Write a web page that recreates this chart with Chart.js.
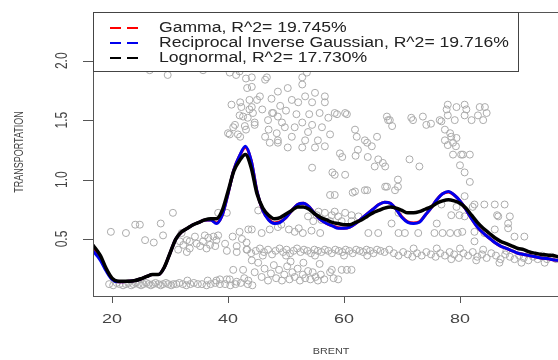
<!DOCTYPE html>
<html>
<head>
<meta charset="utf-8">
<script src="https://cdn.jsdelivr.net/npm/chart.js@4.4.0/dist/chart.umd.min.js"></script>
<style>
    html, body { margin: 0; padding: 0; overflow: hidden; background: #fff; }
    #chart { display: block; }
</style>
</head>
<body>
<canvas id="chart" width="580" height="360"></canvas>
<script>
// smoothed fits, sampled along BRENT
const curveX = [16.7, 18, 19, 20, 21, 22, 23, 24, 25, 26, 27, 28, 29, 30, 31, 32, 33, 34, 35, 36, 37, 38, 39, 40,
    41, 42, 43, 44, 45, 46, 47, 48, 49, 50, 51, 52, 53, 54, 55, 56, 57, 58, 59, 60, 61, 62, 63, 64, 65, 66, 67, 68,
    69, 70, 71, 72, 73, 74, 75, 76, 77, 78, 79, 80, 81, 82, 83, 84, 85, 86, 87, 88, 89, 90, 91, 92, 93, 94, 95, 96, 97];
const gammaY = [0.42, 0.34, 0.24, 0.165, 0.14, 0.14, 0.145, 0.15, 0.165, 0.185, 0.2, 0.2, 0.26, 0.38, 0.5, 0.56, 0.59,
    0.62, 0.64, 0.66, 0.66, 0.635, 0.7, 0.88, 1.08, 1.2, 1.27, 1.16, 0.9, 0.74, 0.665, 0.635, 0.645, 0.68, 0.74, 0.79,
    0.8, 0.77, 0.71, 0.66, 0.63, 0.61, 0.595, 0.59, 0.6, 0.63, 0.67, 0.71, 0.75, 0.79, 0.81, 0.8, 0.75, 0.685, 0.645,
    0.635, 0.645, 0.7, 0.76, 0.83, 0.88, 0.895, 0.87, 0.82, 0.75, 0.67, 0.6, 0.55, 0.51, 0.47, 0.44, 0.42, 0.4, 0.38,
    0.37, 0.36, 0.35, 0.34, 0.335, 0.325, 0.32];
const invGaussY = [0.4, 0.32, 0.23, 0.16, 0.14, 0.14, 0.145, 0.15, 0.165, 0.185, 0.2, 0.2, 0.26, 0.38, 0.5, 0.56, 0.59,
    0.62, 0.64, 0.66, 0.66, 0.63, 0.7, 0.88, 1.08, 1.2, 1.28, 1.16, 0.9, 0.74, 0.66, 0.63, 0.64, 0.68, 0.74, 0.79, 0.8,
    0.77, 0.71, 0.66, 0.63, 0.61, 0.59, 0.59, 0.6, 0.63, 0.67, 0.71, 0.75, 0.79, 0.81, 0.8, 0.75, 0.68, 0.64, 0.63,
    0.64, 0.7, 0.76, 0.83, 0.88, 0.9, 0.87, 0.82, 0.75, 0.67, 0.6, 0.55, 0.51, 0.47, 0.44, 0.42, 0.4, 0.38, 0.37, 0.36,
    0.35, 0.34, 0.335, 0.325, 0.32];
const lognormY = [0.45, 0.36, 0.25, 0.17, 0.145, 0.145, 0.145, 0.15, 0.165, 0.185, 0.2, 0.2, 0.26, 0.38, 0.5, 0.56,
    0.59, 0.62, 0.64, 0.66, 0.67, 0.67, 0.74, 0.9, 1.07, 1.16, 1.21, 1.1, 0.88, 0.76, 0.7, 0.67, 0.68, 0.71, 0.74,
    0.77, 0.77, 0.75, 0.71, 0.68, 0.66, 0.64, 0.63, 0.62, 0.62, 0.64, 0.66, 0.69, 0.72, 0.74, 0.76, 0.77, 0.76, 0.74,
    0.72, 0.72, 0.73, 0.75, 0.77, 0.8, 0.82, 0.83, 0.82, 0.8, 0.76, 0.7, 0.64, 0.59, 0.55, 0.51, 0.48, 0.46, 0.44,
    0.42, 0.41, 0.39, 0.38, 0.37, 0.365, 0.36, 0.35];

const legendLabels = ['Gamma, R^2= 19.745%', 'Reciprocal Inverse Gaussian, R^2= 19.716%', 'Lognormal, R^2= 17.730%'];
const legendColors = ['#ff0000', '#0000ee', '#000000'];
const xTicks = [20, 40, 60, 80];
const yTicks = [0.5, 1.0, 1.5, 2.0];
const xTitle = 'BRENT';
const yTitle = 'TRANSPORTATION';

// observations [BRENT, TRANSPORTATION], grouped by region of the cloud
const lowBand = [[19.5, 0.12], [20.2, 0.11], [20.8, 0.13], [21.3, 0.12], [21.9, 0.11], [22.4, 0.12], [22.8, 0.13],
    [23.3, 0.11], [23.7, 0.12], [24.1, 0.13], [24.6, 0.12], [25.0, 0.11], [25.4, 0.12], [25.9, 0.13], [26.3, 0.12],
    [26.7, 0.11], [27.1, 0.12], [27.5, 0.13], [28.0, 0.12], [28.4, 0.11], [28.8, 0.12], [29.3, 0.13], [29.7, 0.12],
    [30.2, 0.11], [30.6, 0.12], [31.1, 0.12], [31.6, 0.13], [32.2, 0.12], [32.8, 0.11], [33.5, 0.12], [34.1, 0.13],
    [34.8, 0.12], [35.5, 0.12], [36.3, 0.11], [37.0, 0.12], [37.8, 0.13], [38.6, 0.12], [39.5, 0.12], [40.4, 0.11],
    [41.3, 0.12], [42.2, 0.13], [43.4, 0.12], [44.2, 0.11], [33.0, 0.15], [36.5, 0.15], [38.6, 0.16], [40.3, 0.16]];
const leftCloud = [[19.8, 0.56], [22.4, 0.55], [24.0, 0.62], [24.8, 0.62], [25.7, 0.49], [27.2, 0.47], [28.4, 0.63],
    [28.8, 0.53], [30.5, 0.72], [31.4, 0.41], [32.3, 0.45], [33.4, 0.48], [34.6, 0.46], [35.7, 0.48], [36.6, 0.51],
    [37.5, 0.52], [38.0, 0.49], [36.9, 0.45], [35.2, 0.44], [33.4, 0.42], [32.9, 0.39], [36.3, 0.42], [37.8, 0.44],
    [38.3, 0.53], [36.0, 0.53], [34.3, 0.52], [32.9, 0.49], [31.7, 0.48], [32.0, 0.55], [39.8, 0.40], [41.5, 0.39],
    [43.3, 0.41], [39.5, 0.46], [40.8, 0.52], [41.5, 0.44], [42.4, 0.50], [43.2, 0.47], [42.0, 0.56], [43.5, 0.58],
    [38.3, 0.72], [39.8, 0.72], [40.9, 0.24], [42.6, 0.24], [38.0, 0.15], [39.8, 0.16], [41.5, 0.14], [42.8, 0.17]];
const peakCloud = [[26.5, 1.92], [29.6, 1.88], [34.6, 1.94], [35.7, 1.92], [40.3, 1.90], [41.4, 1.88], [40.9, 1.94],
    [42.0, 1.91], [43.1, 1.85], [43.3, 1.77], [44.1, 1.86], [46.7, 1.86], [40.6, 1.63], [42.3, 1.61], [43.7, 1.59],
    [42.0, 1.54], [43.4, 1.52], [41.2, 1.46], [42.9, 1.45], [40.0, 1.39], [41.7, 1.38], [43.7, 1.67], [42.1, 1.65],
    [45.0, 1.67], [44.3, 1.56], [42.6, 1.53], [40.9, 1.44], [43.1, 1.42], [44.6, 1.46], [40.3, 1.38], [42.1, 1.36],
    [47.8, 1.56], [48.4, 1.39], [47.2, 1.31], [48.6, 1.31]];
const midCloud = [[44.1, 1.78], [46.4, 1.84], [48.6, 1.74], [50.3, 1.77], [52.8, 1.86], [53.6, 1.90], [52.8, 1.80],
    [51.0, 1.67], [53.3, 1.70], [55.0, 1.73], [56.7, 1.70], [54.5, 1.65], [56.7, 1.65], [52.1, 1.65], [44.1, 1.61],
    [45.9, 1.59], [47.6, 1.56], [48.6, 1.53], [44.6, 1.48], [46.9, 1.50], [49.3, 1.48], [49.8, 1.44], [52.8, 1.48],
    [54.5, 1.46], [56.2, 1.44], [46.4, 1.36], [48.6, 1.33], [51.0, 1.36], [53.3, 1.33], [55.5, 1.33], [50.3, 1.27],
    [52.8, 1.27], [55.0, 1.27], [56.7, 1.28], [45.5, 1.70], [47.5, 1.68], [50.0, 1.58], [51.8, 1.55], [54.0, 1.55],
    [55.8, 1.56], [57.3, 1.52], [49.0, 1.62], [51.5, 1.44], [53.8, 1.40], [57.6, 1.38], [47.0, 1.42]];
const rightMid = [[58.4, 1.56], [60.2, 1.56], [58.8, 1.55], [60.5, 1.55], [67.4, 1.53], [67.6, 1.50], [68.3, 1.45],
    [67.9, 1.50], [62.2, 1.36], [65.7, 1.36], [64.0, 1.31], [61.9, 1.42], [63.6, 1.33], [62.4, 1.25], [64.8, 1.28],
    [64.1, 1.19], [65.9, 1.17], [67.1, 1.11], [65.3, 1.11], [59.3, 1.22], [59.7, 1.19], [62.0, 1.20], [66.7, 1.14],
    [54.5, 1.10], [58.0, 1.06], [60.2, 1.04], [58.4, 1.04], [58.4, 0.87], [61.9, 0.90], [63.6, 0.91], [67.1, 0.94],
    [68.8, 0.91], [69.3, 1.00], [57.6, 0.87], [61.5, 0.89], [64.0, 0.91], [67.4, 0.94]];
const rightCloud = [[77.9, 1.63], [80.8, 1.63], [84.3, 1.61], [71.6, 1.52], [73.6, 1.53], [75.0, 1.47], [76.8, 1.49],
    [77.9, 1.54], [79.1, 1.50], [80.8, 1.54], [82.0, 1.50], [83.1, 1.54], [84.0, 1.50], [77.4, 1.42], [78.5, 1.36],
    [79.4, 1.35], [77.4, 1.33], [77.9, 1.29], [79.3, 1.28], [78.8, 1.21], [80.2, 1.21], [81.7, 1.21], [80.0, 1.12],
    [80.8, 1.06], [81.7, 0.98], [71.3, 1.17], [73.0, 1.11], [69.3, 0.94], [77.7, 1.59], [79.4, 1.61], [81.1, 1.59],
    [83.4, 1.61], [84.6, 1.56], [76.5, 1.50], [74.2, 1.46], [71.9, 1.50], [78.3, 1.39], [78.8, 1.31], [80.5, 1.21]];
const midBand = [[45.2, 0.74], [44.1, 0.58], [45.8, 0.55], [47.2, 0.58], [48.6, 0.60], [53.8, 0.69], [55.3, 0.70],
    [56.7, 0.72], [57.9, 0.70], [59.0, 0.69], [60.2, 0.72], [61.3, 0.70], [62.5, 0.69], [54.7, 0.65], [56.1, 0.66],
    [57.6, 0.65], [59.6, 0.65], [61.3, 0.65], [55.6, 0.73], [58.4, 0.73], [51.5, 0.56], [52.9, 0.55], [54.4, 0.57],
    [55.9, 0.55], [52.2, 0.59], [49.2, 0.62], [50.5, 0.58], [64.2, 0.55], [65.9, 0.55], [69.4, 0.55], [68.2, 0.63],
    [69.4, 0.72], [82.5, 0.79], [84.2, 0.79], [86.0, 0.79], [87.7, 0.79], [80.8, 0.86], [82.2, 0.77], [76.8, 0.79],
    [79.4, 0.77], [78.5, 0.70], [79.9, 0.70], [80.8, 0.69], [70.5, 0.55], [72.8, 0.55], [75.6, 0.55], [77.0, 0.55],
    [78.3, 0.55], [79.6, 0.55], [80.4, 0.56], [82.5, 0.56], [84.2, 0.55], [86.0, 0.58], [88.3, 0.59], [89.4, 0.52],
    [91.1, 0.52], [86.6, 0.69], [88.3, 0.63], [82.5, 0.48], [86.4, 0.70], [88.6, 0.69], [76.0, 0.63]];
const band04 = [[43.2, 0.41], [44.0, 0.38], [44.8, 0.40], [45.5, 0.42], [46.2, 0.39], [46.9, 0.41], [47.6, 0.37],
    [48.2, 0.40], [48.9, 0.42], [49.5, 0.39], [50.1, 0.41], [50.7, 0.38], [51.3, 0.40], [51.9, 0.42], [52.5, 0.39],
    [53.1, 0.41], [53.7, 0.40], [54.3, 0.38], [54.9, 0.41], [55.5, 0.40], [56.1, 0.39], [56.7, 0.41], [57.3, 0.40],
    [57.9, 0.38], [58.5, 0.41], [59.1, 0.40], [59.7, 0.39], [60.3, 0.41], [60.9, 0.40], [61.5, 0.38], [62.1, 0.41],
    [62.7, 0.40], [63.3, 0.39], [63.9, 0.41], [64.5, 0.40], [65.1, 0.38], [65.7, 0.41], [66.3, 0.40], [67.0, 0.39],
    [67.8, 0.41], [68.6, 0.38], [69.4, 0.36], [70.2, 0.39], [71.0, 0.37], [71.8, 0.35], [72.6, 0.38], [73.4, 0.36],
    [74.2, 0.39], [75.0, 0.37], [75.8, 0.35], [76.6, 0.38], [77.4, 0.36], [78.2, 0.39], [79.0, 0.37], [79.8, 0.34],
    [80.6, 0.38], [81.4, 0.36], [82.2, 0.39], [83.0, 0.35], [83.8, 0.37], [84.6, 0.34], [85.4, 0.38], [86.2, 0.36],
    [87.0, 0.33], [87.8, 0.37], [88.6, 0.35], [89.4, 0.33], [90.2, 0.36], [91.0, 0.34], [91.8, 0.32], [92.6, 0.35],
    [93.4, 0.33], [94.2, 0.36], [95.0, 0.33], [95.8, 0.35], [96.6, 0.33], [46.0, 0.36], [50.0, 0.36], [55.0, 0.36],
    [60.0, 0.36], [64.0, 0.36], [72.0, 0.42], [76.0, 0.42], [80.0, 0.42], [84.0, 0.41], [88.0, 0.40], [78.5, 0.33],
    [82.8, 0.32], [86.8, 0.30], [90.6, 0.30], [94.6, 0.30]];
const lowCluster = [[43.5, 0.15], [44.1, 0.32], [45.2, 0.30], [44.6, 0.22], [45.8, 0.18], [46.3, 0.25], [46.9, 0.15],
    [47.4, 0.21], [47.9, 0.28], [48.3, 0.17], [48.8, 0.24], [49.3, 0.15], [49.7, 0.20], [50.2, 0.27], [50.6, 0.16],
    [51.1, 0.22], [51.5, 0.18], [52.0, 0.25], [52.4, 0.15], [52.9, 0.20], [53.3, 0.17], [53.8, 0.23], [54.2, 0.16],
    [54.6, 0.22], [55.1, 0.18], [55.5, 0.15], [56.0, 0.20], [56.6, 0.16], [57.6, 0.22], [58.2, 0.17], [59.0, 0.16],
    [59.6, 0.24], [60.5, 0.24], [61.3, 0.24], [57.9, 0.24], [50.8, 0.31], [53.0, 0.30], [55.8, 0.29]];

const toXY = ys => curveX.map((x, i) => ({ x, y: ys[i] }));
const points = [...lowBand, ...leftCloud, ...peakCloud, ...midCloud, ...rightMid, ...rightCloud, ...midBand,
    ...band04, ...lowCluster].map(([x, y]) => ({ x, y }));

// R-style text looks horizontally stretched in the reference
function stretchText(ctx, text, x, y, sx, rotate) {
    ctx.save();
    ctx.translate(x, y);
    ctx.scale(sx, 1);
    if (rotate) ctx.rotate(-Math.PI / 2);
    ctx.fillText(text, 0, 0);
    ctx.restore();
}

const rFrame = {
    id: 'rFrame',
    afterDatasetsDraw(chart) {
        const ctx = chart.ctx;
        const a = chart.chartArea;
        const xs = chart.scales.x, ys = chart.scales.y;
        ctx.save();
        ctx.strokeStyle = '#555';
        ctx.lineWidth = 1;
        ctx.strokeRect(Math.round(a.left) + 0.5, Math.round(a.top) + 0.5, Math.round(a.right - a.left), Math.round(a.bottom - a.top));

        // ticks
        ctx.beginPath();
        xTicks.forEach(v => {
            const px = Math.round(xs.getPixelForValue(v)) + 0.5;
            ctx.moveTo(px, a.bottom);
            ctx.lineTo(px, a.bottom + 7);
        });
        yTicks.forEach(v => {
            const py = Math.round(ys.getPixelForValue(v)) + 0.5;
            ctx.moveTo(a.left, py);
            ctx.lineTo(a.left - 10, py);
        });
        ctx.stroke();

        ctx.fillStyle = '#444';
        ctx.textAlign = 'center';
        ctx.textBaseline = 'middle';
        ctx.font = '13px "Liberation Sans", Arial, sans-serif';
        xTicks.forEach(v => stretchText(ctx, String(v), xs.getPixelForValue(v), a.bottom + 23, 1.38, false));
        ctx.font = '12px "Liberation Sans", Arial, sans-serif';
        yTicks.forEach(v => stretchText(ctx, v.toFixed(1), 62, ys.getPixelForValue(v), 1.4, true));

        ctx.font = '9px "Liberation Sans", Arial, sans-serif';
        stretchText(ctx, xTitle, (a.left + a.right) / 2, 352, 1.2, false);
        stretchText(ctx, yTitle, 20, 152, 1.4, true);

        // legend
        const lx = a.left, ly = a.top, lw = 425, lh = 59;
        ctx.fillStyle = '#fff';
        ctx.fillRect(lx, ly, lw, lh);
        ctx.strokeStyle = '#444';
        ctx.strokeRect(Math.round(lx) + 0.5, Math.round(ly) + 0.5, lw, lh);
        ctx.font = '14px "Liberation Sans", Arial, sans-serif';
        const sx = 350 / ctx.measureText(legendLabels[1]).width;
        legendLabels.forEach((label, i) => {
            const y = ly + 16 + i * 15;
            ctx.strokeStyle = legendColors[i];
            ctx.lineWidth = 2;
            ctx.setLineDash([11, 6]);
            ctx.beginPath();
            ctx.moveTo(lx + 17, y);
            ctx.lineTo(lx + 46, y);
            ctx.stroke();
            ctx.setLineDash([]);
            ctx.fillStyle = '#222';
            ctx.textAlign = 'left';
            stretchText(ctx, label, lx + 66, y, sx, false);
        });
        ctx.restore();
    }
};

new Chart(document.getElementById('chart'), {
    type: 'scatter',
    data: {
        datasets: [
            {
                label: legendLabels[2],
                data: toXY(lognormY),
                showLine: true,
                borderColor: '#000',
                borderWidth: 3.5,
                pointRadius: 0,
                cubicInterpolationMode: 'monotone',
                order: 1
            },
            {
                label: legendLabels[1],
                data: toXY(invGaussY),
                showLine: true,
                borderColor: '#0000ee',
                borderWidth: 3,
                pointRadius: 0,
                cubicInterpolationMode: 'monotone',
                order: 2
            },
            {
                label: legendLabels[0],
                data: toXY(gammaY),
                showLine: true,
                borderColor: '#ff0000',
                borderWidth: 3,
                pointRadius: 0,
                cubicInterpolationMode: 'monotone',
                order: 3
            },
            {
                label: 'observed',
                data: points,
                pointRadius: 3.5,
                pointBorderWidth: 1,
                pointBorderColor: '#ababab',
                pointBackgroundColor: 'rgba(0,0,0,0)',
                order: 4
            }
        ]
    },
    options: {
        responsive: false,
        animation: false,
        devicePixelRatio: 1,
        layout: { padding: { left: 93, top: 12, right: 11, bottom: 64 } },
        scales: {
            x: { type: 'linear', min: 16.72, max: 98.8, display: false },
            y: { type: 'linear', min: 0.02, max: 2.41, display: false }
        },
        plugins: { legend: { display: false }, tooltip: { enabled: false } }
    },
    plugins: [rFrame]
});
</script>
</body>
</html>
